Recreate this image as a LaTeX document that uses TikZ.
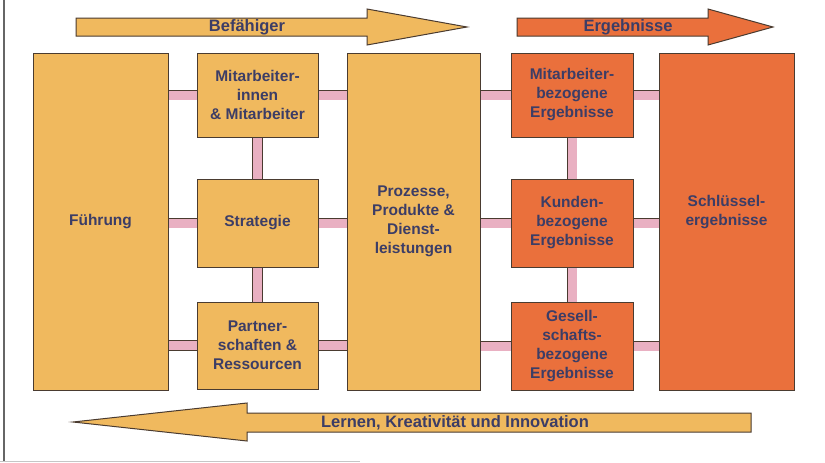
\documentclass[tikz,border=0pt]{standalone}
\usepackage{fontspec}
\setmainfont{Liberation Sans}
\usetikzlibrary{backgrounds,shadows}
\pgfdeclarelayer{paper}
\pgfsetlayers{paper,background,main}
\definecolor{lightor}{HTML}{F0B95E}
\definecolor{darkor}{HTML}{EA703C}
\definecolor{txtc}{HTML}{3C3D66}
\definecolor{edgec}{HTML}{4A3B30}
\definecolor{pinkc}{HTML}{E9B0C2}
\tikzset{
  box/.style={rectangle, draw=edgec, line width=1pt, text=txtc, align=center,
    font=\fontsize{15.5}{19}\selectfont\bfseries, inner sep=2pt,
    drop shadow={shadow xshift=1pt, shadow yshift=-1pt, opacity=0.45, fill=black}},
  lbox/.style={box, fill=lightor},
  dbox/.style={box, fill=darkor},
  conn/.style={draw=edgec, line width=0.8pt, double=pinkc, double distance=9pt},
  bigarrow/.style={draw=edgec, line width=1pt, line join=miter},
  arrlabel/.style={text=txtc, font=\fontsize{16.5}{20}\selectfont\bfseries, inner sep=0pt},
  plainlabel/.style={text=txtc, align=center, font=\fontsize{15.5}{19}\selectfont\bfseries, inner sep=0pt}
}
\begin{document}
\begin{tikzpicture}[x=1pt,y=-1pt]
\useasboundingbox (0,0) rectangle (825,463);
\begin{pgfonlayer}{paper}
\fill[white] (0,0) rectangle (825,463);
\end{pgfonlayer}
% page frame
\draw[line width=1.2pt, gray!80!black] (4,0) -- (4,461);
\draw[line width=1pt, gray!45] (0,461) -- (360,461);

% top arrows
\filldraw[bigarrow, fill=lightor] (76,18) -- (367,18) -- (367,9) -- (467,27) -- (367,45) -- (367,36) -- (76,36) -- cycle;
\node[arrlabel] (befa) at (247,27) {Befähiger};
\filldraw[bigarrow, fill=darkor] (517,18) -- (708,18) -- (708,9) -- (773,27) -- (708,45) -- (708,36) -- (517,36) -- cycle;
\node[arrlabel] (erg) at (628,27) {Ergebnisse};

% bottom arrow
\filldraw[bigarrow, fill=lightor] (751,413) -- (247,413) -- (247,403) -- (73,422) -- (247,441) -- (247,432) -- (751,432) -- cycle;
\node[arrlabel] (lern) at (455,423) {Lernen, Kreativität und Innovation};

% boxes
\node[lbox, minimum width=135pt, minimum height=337pt] (fuehr) at (100.5,221.5) {Führung};
\node[lbox, minimum width=121pt, minimum height=84pt] (mit) at (257.5,95) {Mitarbeiter-\\innen\\\& Mitarbeiter};
\node[lbox, minimum width=121pt, minimum height=88pt] (strat) at (257.5,223) {Strategie};
\node[lbox, minimum width=121pt, minimum height=87pt] (part) at (257.5,345.5) {Partner-\\schaften \&\\Ressourcen};
\node[lbox, minimum width=133pt, minimum height=337pt] (proz) at (413.5,221.5) {Prozesse,\\Produkte \&\\Dienst-\\leistungen};
\node[dbox, minimum width=122pt, minimum height=84pt] (mres) at (572,95) {Mitarbeiter-\\bezogene\\Ergebnisse};
\node[dbox, minimum width=122pt, minimum height=88pt] (kres) at (572,223) {Kunden-\\bezogene\\Ergebnisse};
\node[dbox, minimum width=122pt, minimum height=88pt] (gres) at (572,346) {Gesell-\\schafts-\\bezogene\\Ergebnisse};
\node[dbox, minimum width=135pt, minimum height=337pt] (key) at (726.5,221.5) {};
\node[plainlabel] (keylab) at ([yshift=9.5pt]key.center) {Schlüssel-\\ergebnisse};

% connectors
\begin{pgfonlayer}{background}
\foreach \b in {mit,strat,part}{
  \draw[conn] (\b.center) -- (\b.center -| fuehr.center);
  \draw[conn] (\b.center) -- (\b.center -| proz.center);
}
\foreach \b in {mres,kres,gres}{
  \draw[conn] (\b.center) -- (\b.center -| proz.center);
  \draw[conn] (\b.center) -- (\b.center -| key.center);
}
\draw[conn] (mit.center) -- (strat.center);
\draw[conn] (strat.center) -- (part.center);
\draw[conn] (mres.center) -- (kres.center);
\draw[conn] (kres.center) -- (gres.center);
\end{pgfonlayer}
\end{tikzpicture}
\end{document}
